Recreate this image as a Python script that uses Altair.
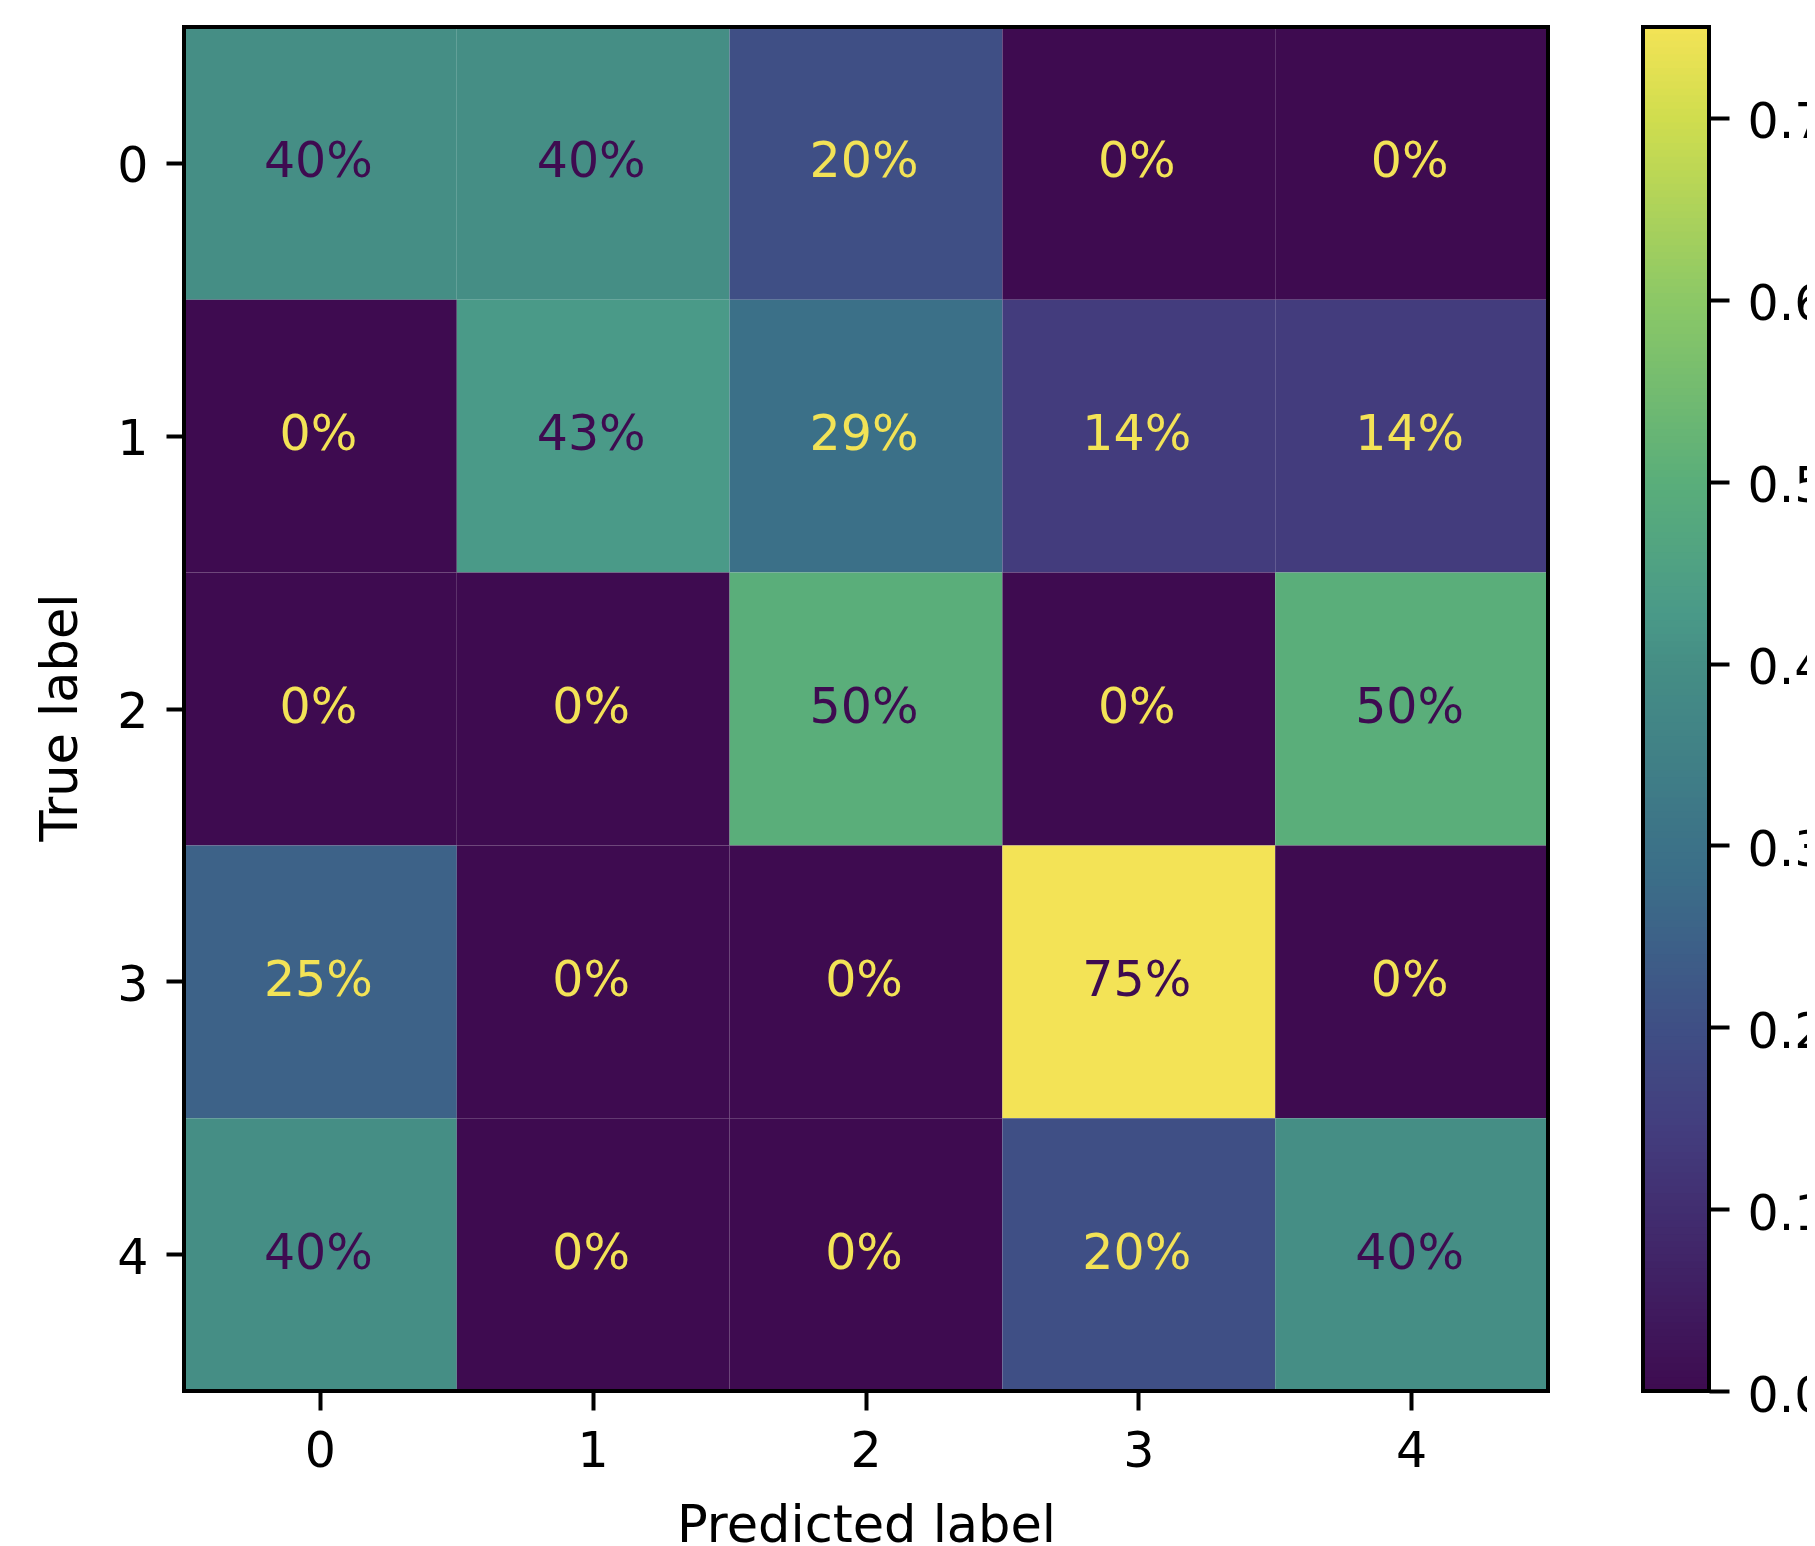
import altair as alt
import pandas as pd
import numpy as np

classes = ["0", "1", "2", "3", "4"]
row_0 = [0.40, 0.40, 0.20, 0.00, 0.00]
row_1 = [0.00, 0.43, 0.29, 0.14, 0.14]
row_2 = [0.00, 0.00, 0.50, 0.00, 0.50]
row_3 = [0.25, 0.00, 0.00, 0.75, 0.00]
row_4 = [0.40, 0.00, 0.00, 0.20, 0.40]
matrix = [row_0, row_1, row_2, row_3, row_4]
cbar_ticks = [0.0, 0.1, 0.2, 0.3, 0.4, 0.5, 0.6, 0.7]
vmin, vmax = 0.0, 0.75
threshold = (vmin + vmax) / 2

# colour map stops (muted viridis, as in the picture)
cmap_stops = [0.0, 0.1429, 0.20, 0.25, 0.2857, 0.40, 0.4286, 0.50, 0.60, 0.70, 0.75]
cmap_colors = ["#3e0b50", "#433d7e", "#3f4f85", "#3d6288", "#3b6f88", "#458e85",
               "#4a9a88", "#5aae7a", "#8cc866", "#d0dd4e", "#f3e356"]
dark_text = "#3e0b50"
light_text = "#f3e356"

records = []
for i, t in enumerate(classes):
    for j, p in enumerate(classes):
        records.append({"true": t, "pred": p, "value": matrix[i][j]})
df = pd.DataFrame(records)

FONT = "DejaVu Sans"
FS = 49
TFS = 51

color_scale = alt.Scale(domain=cmap_stops, range=cmap_colors, interpolate="rgb")


def frame():
    # the black spine drawn on top of the image, like matplotlib's axes frame
    return alt.Chart(alt.Data(values=[{"frame": 1}])).mark_rect(
        filled=False, stroke="black", strokeWidth=4
    ).encode(x=alt.value(0), x2=alt.value("width"),
             y=alt.value(0), y2=alt.value("height"))


base = alt.Chart(df).encode(
    x=alt.X("pred:O", sort=classes, title="Predicted label",
            axis=alt.Axis(labelAngle=0, tickSize=19, labelPadding=17, titlePadding=25)),
    y=alt.Y("true:O", sort=classes, title="True label",
            axis=alt.Axis(tickSize=18, labelPadding=18, titlePadding=29, labelOffset=4,
                          titleY=690)),
)
rects = base.mark_rect().encode(
    color=alt.Color("value:Q", scale=color_scale, legend=None)
)
texts = base.mark_text(font=FONT, fontSize=FS, dx=-2, dy=-1).encode(
    text=alt.Text("value:Q", format=".0%"),
    color=alt.condition(alt.datum.value >= threshold,
                        alt.value(dark_text), alt.value(light_text)),
)
heat = alt.layer(rects, texts, frame()).properties(width=1364, height=1364)

# colour bar
edges = np.linspace(vmin, vmax, 201)
step = edges[1] - edges[0]
cb = pd.DataFrame({
    "v": edges[:-1],
    "v2": np.minimum(edges[1:] + step * 0.6, vmax),
    "mid": (edges[:-1] + edges[1:]) / 2,
})
cbar_rects = alt.Chart(cb).mark_rect().encode(
    y=alt.Y("v:Q", scale=alt.Scale(domain=[vmin, vmax], nice=False, zero=False),
            axis=alt.Axis(orient="right", values=cbar_ticks, format=".1f",
                          tickSize=20, labelPadding=18, labelOffset=5,
                          labelFlush=False), title=None),
    y2="v2:Q",
    color=alt.Color("mid:Q", scale=color_scale, legend=None),
)
cbar = alt.layer(cbar_rects, frame()).properties(width=66, height=1364)

chart = alt.hconcat(heat, cbar, spacing=89).properties(
    autosize=alt.AutoSizeParams(type="none"),
    padding={"left": 176, "top": 19, "right": 1623, "bottom": 1511},
).configure_axis(
    labelFont=FONT, titleFont=FONT, labelFontSize=FS, titleFontSize=TFS,
    labelColor="black", titleColor="black", tickColor="black",
    tickWidth=4, domain=False, grid=False,
    titleFontWeight="normal",
).configure_view(stroke="transparent")

chart.save("out.html", embed_options={"renderer": "svg", "actions": False})
